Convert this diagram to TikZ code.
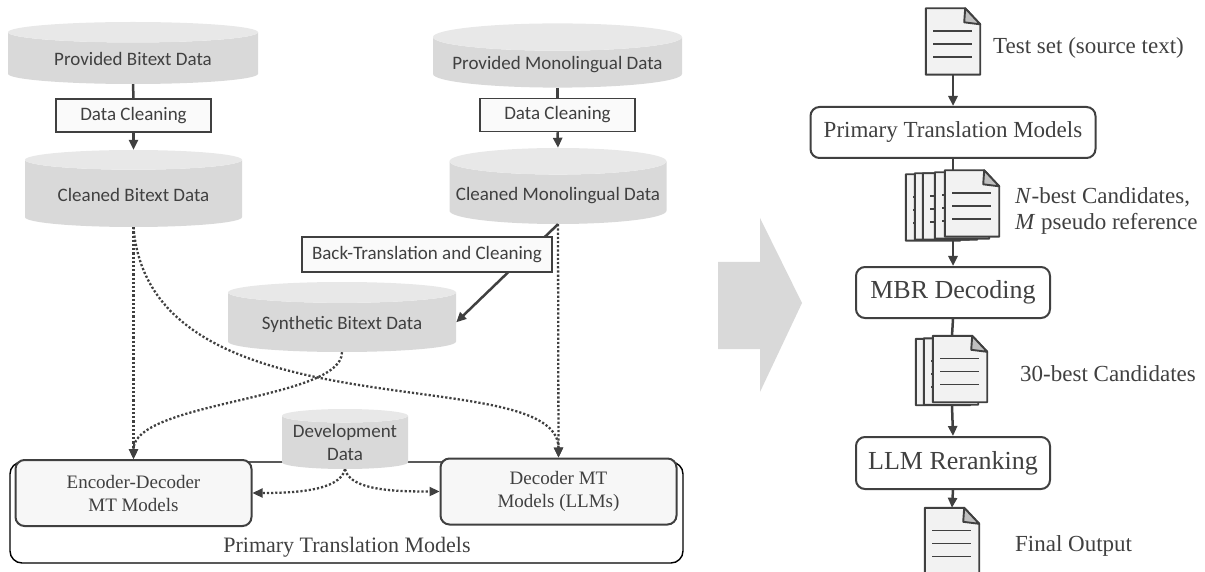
\documentclass[tikz,border=0pt]{standalone}
\usepackage{fontspec}
\setmainfont{Liberation Serif}
\newfontfamily\calibri{Carlito}
\usetikzlibrary{shapes.geometric,arrows.meta}

\definecolor{textgray}{HTML}{404040}
\definecolor{linegray}{HTML}{404040}
\definecolor{cylbody}{HTML}{D9D9D9}
\definecolor{cyltop}{HTML}{E8E8E8}
\definecolor{boxfill}{HTML}{FAFAFA}
\definecolor{modelfill}{HTML}{F7F7F7}
\definecolor{pagefill}{HTML}{F2F2F2}
\definecolor{foldgray}{HTML}{BFBFBF}
\definecolor{arrowgray}{HTML}{D9D9D9}

\tikzstyle{datacyl}=[cylinder, shape border rotate=90, aspect=0.13, cylinder uses custom fill,
  cylinder body fill=cylbody, cylinder end fill=cyltop, inner sep=0pt, align=center,
  font=\calibri\fontsize{19}{23}\selectfont, text=textgray, anchor=shape center]
\tikzstyle{lowtext}=[text height=19pt, text depth=4pt]
\tikzstyle{cleanbox}=[draw=linegray, line width=1.5pt, fill=boxfill, inner sep=0pt, minimum height=33,
  font=\calibri\fontsize{19}{23}\selectfont, text=textgray]
\tikzstyle{modelbox}=[draw=linegray, line width=2pt, rounded corners=9pt, fill=modelfill, align=center,
  font=\fontsize{19}{23}\selectfont, text=textgray, inner sep=0pt]
\tikzstyle{stepbox}=[draw=linegray, line width=2pt, rounded corners=9pt, fill=white, inner sep=0pt,
  text=textgray]
\tikzstyle{page}=[rectangle, inner sep=0pt, minimum width=54, minimum height=66]
\tikzstyle{stack}=[rectangle, inner sep=0pt]
\tikzstyle{docline}=[draw=linegray, line width=1.9pt, line join=round]
\tikzstyle{solidline}=[draw=linegray, line width=2.5pt]
\tikzstyle{flow}=[draw=linegray, line width=2.5pt, -{Triangle[length=10pt,width=9pt]}]
\tikzstyle{dotflow}=[draw=linegray, line width=2.3pt, dash pattern=on 2.2pt off 2pt,
  -{Triangle[length=10pt,width=9pt]}]
\tikzstyle{sidelabel}=[anchor=west, align=left, inner sep=0pt, text=textgray,
  font=\fontsize{23}{26}\selectfont]

% one sheet of paper with a folded corner
\newcommand{\docpage}[2]{%
  \node[page] (#1) at #2 {};
  \filldraw[docline, fill=pagefill] (#1.north west) -- ([shift={(-15,0)}]#1.north east)
    -- ([shift={(0,16)}]#1.north east) -- (#1.south east) -- (#1.south west) -- cycle;
  \filldraw[docline, fill=foldgray] ([shift={(-15,0)}]#1.north east) -- ([shift={(0,16)}]#1.north east)
    -- ([shift={(-16,14)}]#1.north east) -- cycle;
  \foreach \ly in {-10.5,2.5,15.5}
    \draw[docline] ([shift={(-20,\ly)}]#1.center) -- ([shift={(19,\ly)}]#1.center);
}

\begin{document}
\begin{tikzpicture}[x=1pt, y=-1pt]
    \useasboundingbox (0,0) rectangle (1205,572);
    % Primary translation models frame
    \node[draw, line width=1.4pt, rounded corners=12pt, minimum width=673, minimum height=101,
      inner sep=0pt] (ptm) at (346.5,512.5) {};
    \node[text=textgray, font=\fontsize{22}{26}\selectfont] (ptmlabel) at (347,547) {Primary Translation Models};
    \foreach \pos/\name/\txt in {{(133.5,493)/enc/Encoder-Decoder\\MT Models}, {(558.5,491.5)/dec/Decoder MT\\Models (LLMs)}}
        \node[modelbox, minimum width=236, minimum height=66] (\name) at \pos {\txt};
    % First we draw the cylinders
    \foreach \pos/\name/\w/\h/\txt in {{(133,53)/pbi/250/62/Provided Bitext Data},
        {(133.5,188.5)/cbi/217/77/Cleaned Bitext Data}, {(557.5,55.5)/pmo/249/61/Provided Monolingual Data},
        {(558,186)/cmo/217/76/Cleaned Monolingual Data}, {(342,317)/syn/228/70/Synthetic Bitext Data}}
        \node[datacyl, lowtext, minimum width=\w, minimum height=\h] (\name) at \pos {\txt};
    \node[datacyl, minimum width=126, minimum height=60] (dev) at (345,439) {Development\\Data};
    % cleaning steps
    \foreach \pos/\name/\w in {{(133.5,115.5)/dcl/155}, {(557.5,115)/dcr/155}}
        \node[cleanbox, minimum width=\w] (\name) at \pos {Data Cleaning};
    \path[solidline] (pbi.south) -- (dcl.north);
    \path[flow] (dcl.south) -- (cbi.north);
    \path[solidline] (pmo.south) -- (dcr.north);
    \path[flow] (dcr.south) -- (cmo.north);
    \path[flow] (cmo.south) -- (syn.east);
    \node[cleanbox, minimum width=250, minimum height=35] (btc) at (427,254.5) {Back-Translation and Cleaning};
    % dotted data flows into the models
    \path[dotflow] (cbi.south) -- (enc.north);
    \path[dotflow] (cbi.south) .. controls +(17,213) and +(0,-99) .. (dec.north);
    \path[dotflow] (syn.south) .. controls +(0,48) and +(0,-58) .. (enc.north);
    \path[dotflow] (cmo.south) -- (dec.north);
    \path[dotflow] (dev.south) .. controls +(-5,22) and +(40,0) .. (enc.east);
    \path[dotflow] (dev.south) .. controls +(5,22) and +(-40,0) .. (dec.west);

    % big arrow between the two halves
    \fill[arrowgray] (718,262) -- (760,262) -- (760,218) -- (802,303) -- (760,392) -- (760,349) -- (718,349) -- cycle;

    % inference pipeline
    \docpage{test}{(953,41.5)}
    \node[sidelabel] (testlabel) at (993,48) {Test set (source text)};
    \node[stepbox, minimum width=285, minimum height=51, font=\fontsize{23}{26}\selectfont] (ptmr) at (953,132.5) {Primary Translation Models};
    \node[stack, minimum width=93, minimum height=70] (nbest) at (953,206) {};
    \foreach \i/\pos in {{1/(933,207.5)}, {2/(942,206.5)}, {3/(950,206.5)}, {4/(962,205.5)}, {5/(972,203.5)}}
        {\docpage{nb\i}{\pos}}
    \node[sidelabel] (nbestlabel) at (1015,211) {\textit{N}-best Candidates,\\\textit{M} pseudo reference};
    \node[stepbox, minimum width=194, minimum height=51, font=\fontsize{26}{30}\selectfont] (mbr) at (953,292.5) {MBR Decoding};
    \node[stack, minimum width=72, minimum height=69] (best30) at (952,370.5) {};
    \foreach \i/\pos in {{1/(943,372)}, {2/(951,371.5)}, {3/(960,369)}}
        {\docpage{tb\i}{\pos}}
    \node[sidelabel] (best30label) at (1020,374) {30-best Candidates};
    \node[stepbox, minimum width=194, minimum height=52, font=\fontsize{26}{30}\selectfont] (llm) at (953,463) {LLM Reranking};
    \docpage{final}{(952,541)}
    \node[sidelabel] (finallabel) at (1015,546) {Final Output};
    \path[flow] (test.south) -- (ptmr.north);
    \path[solidline] (ptmr.south) -- (nbest.north);
    \path[flow] (nbest.south) -- (mbr.north);
    \path[solidline] (mbr.south) -- (best30.north);
    \path[flow] (best30.south) -- (llm.north);
    \path[flow] (llm.south) -- (final.north);
\end{tikzpicture}
\end{document}
